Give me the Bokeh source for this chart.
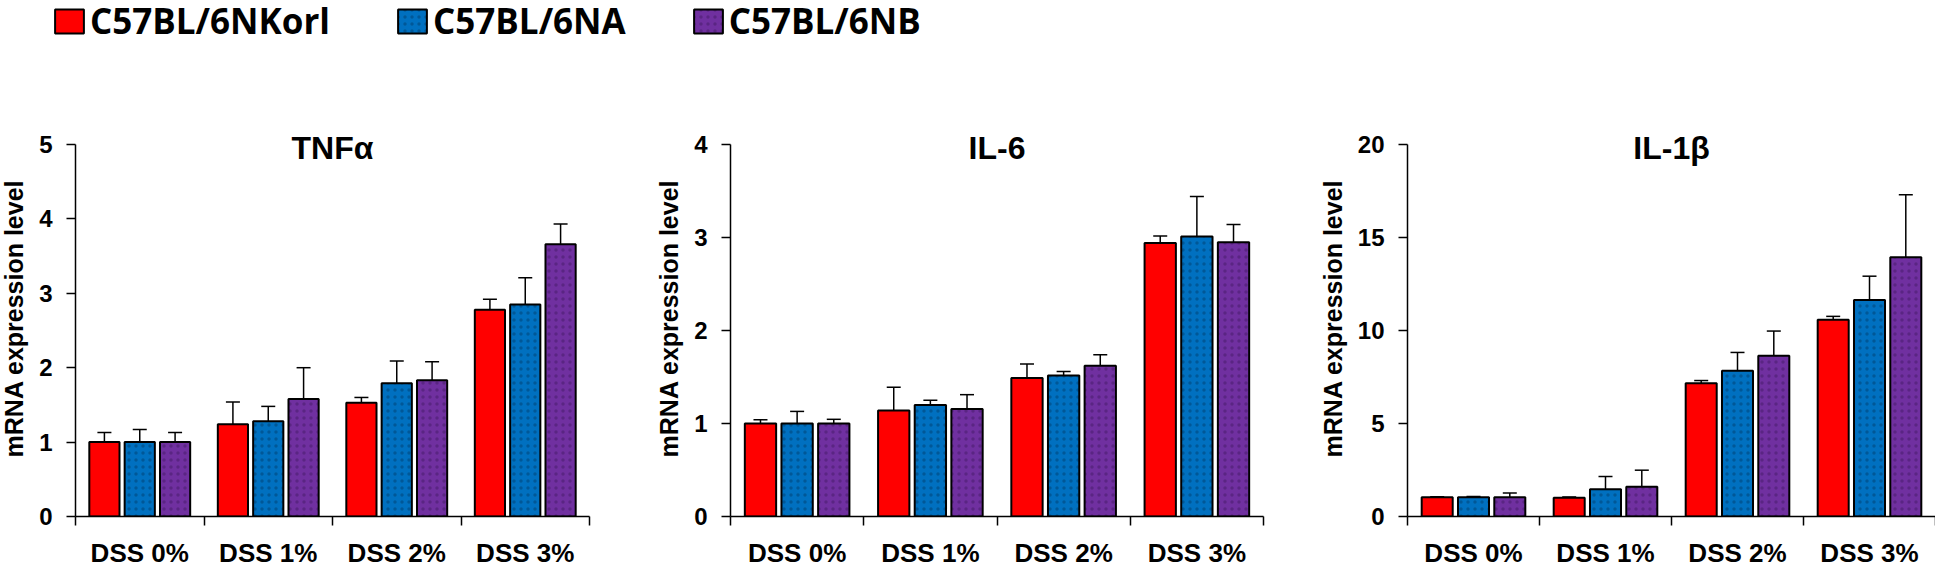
from bokeh.plotting import figure
from bokeh.layouts import row, column
from bokeh.models import (ColumnDataSource, Range1d, FixedTicker, Whisker, TeeHead,
                          Label, Legend, LegendItem)
from bokeh.transform import dodge
from bokeh.embed import file_html
from bokeh.resources import INLINE

# ---------------- data ----------------
categories = ["DSS 0%", "DSS 1%", "DSS 2%", "DSS 3%"]
strains = ["C57BL/6NKorl", "C57BL/6NA", "C57BL/6NB"]
colors = ["#FF0000", "#0070C0", "#7030A0"]
hatch_colors = [None, "#00335c", "#3a1458"]

tnf_korl = [1.00, 1.24, 1.53, 2.78]
tnf_korl_sd = [0.13, 0.30, 0.07, 0.14]
tnf_na = [1.00, 1.28, 1.79, 2.85]
tnf_na_sd = [0.17, 0.20, 0.30, 0.36]
tnf_nb = [1.00, 1.58, 1.83, 3.66]
tnf_nb_sd = [0.13, 0.42, 0.25, 0.27]

il6_korl = [1.00, 1.14, 1.49, 2.94]
il6_korl_sd = [0.04, 0.25, 0.15, 0.075]
il6_na = [1.00, 1.20, 1.515, 3.01]
il6_na_sd = [0.13, 0.05, 0.045, 0.43]
il6_nb = [1.00, 1.155, 1.62, 2.95]
il6_nb_sd = [0.045, 0.155, 0.12, 0.19]

il1b_korl = [1.03, 1.01, 7.16, 10.58]
il1b_korl_sd = [0.03, 0.04, 0.15, 0.18]
il1b_na = [1.03, 1.46, 7.84, 11.64]
il1b_na_sd = [0.05, 0.69, 0.98, 1.28]
il1b_nb = [1.03, 1.60, 8.64, 13.94]
il1b_nb_sd = [0.23, 0.89, 1.33, 3.36]

y_label = "mRNA expression level"

offsets = [-0.275, 0.0, 0.275]
BAR_W = 0.235
LABEL_FONT = "Liberation Sans"
UI_FONT = "Open Sans"

AXIS_H = 372      # pixel height from 0 to top tick
HEAD = 24         # extra room above top tick for the title


def style_bar_kwargs(k):
    kw = dict(fill_color=colors[k], line_color="black", line_width=2)
    if hatch_colors[k]:
        kw.update(hatch_pattern="dot", hatch_color=hatch_colors[k], hatch_alpha=0.4,
                  hatch_scale=7, hatch_weight=0.8)
    return kw


def make_panel(title, means, sds, ymax, ystep, left, fw, right):
    ytop = ymax * (AXIS_H + HEAD) / AXIS_H
    p = figure(frame_width=fw, frame_height=AXIS_H + HEAD, output_backend="svg",
               toolbar_location=None, x_range=Range1d(0.5, 4.5),
               y_range=Range1d(0, ytop), min_border_left=left,
               min_border_right=right, min_border_top=0, min_border_bottom=43)
    p.outline_line_color = None
    p.xgrid.visible = False
    p.ygrid.visible = False
    p.background_fill_color = None
    p.border_fill_color = None

    xpos = [i + 1 for i in range(len(categories))]
    for k in range(3):
        src = ColumnDataSource(dict(
            x=xpos, top=means[k],
            upper=[m + s for m, s in zip(means[k], sds[k])]))
        p.vbar(x=dodge("x", offsets[k], range=p.x_range), top="top", width=BAR_W,
               source=src, **style_bar_kwargs(k))
        w = Whisker(source=src, base=dodge("x", offsets[k], range=p.x_range),
                    upper="upper", lower="top", dimension="height",
                    line_color="black", line_width=1.5,
                    upper_head=TeeHead(size=14, line_width=1.5, line_color="black"),
                    lower_head=None)
        p.add_layout(w)

    # x axis: category labels centered, ticks at group boundaries
    xa = p.xaxis[0]
    xa.ticker = FixedTicker(ticks=xpos, minor_ticks=[i + 0.5 for i in range(len(categories) + 1)])
    xa.major_label_overrides = {x: c for x, c in zip(xpos, categories)}
    xa.major_tick_out = 0
    xa.major_tick_in = 0
    xa.minor_tick_out = 9
    xa.minor_tick_in = 0
    xa.minor_tick_line_color = "black"
    xa.minor_tick_line_width = 1.5
    xa.axis_line_width = 1.5
    xa.axis_line_color = "black"
    xa.major_label_standoff = 12
    xa.major_label_text_font = LABEL_FONT
    xa.major_label_text_font_style = "bold"
    xa.major_label_text_font_size = "26px"
    xa.major_label_text_color = "black"

    ya = p.yaxis[0]
    ya.bounds = (0, ymax)
    ya.ticker = FixedTicker(ticks=list(range(0, ymax + 1, ystep)))
    ya.major_tick_out = 9
    ya.major_tick_in = 0
    ya.minor_tick_line_color = None
    ya.major_tick_line_width = 1.5
    ya.axis_line_width = 1.5
    ya.axis_line_color = "black"
    ya.major_label_standoff = 14
    ya.major_label_text_font = LABEL_FONT
    ya.major_label_text_font_style = "bold"
    ya.major_label_text_font_size = "24px"
    ya.major_label_text_color = "black"
    ya.axis_label = y_label
    ya.axis_label_standoff = 8
    ya.axis_label_text_font = LABEL_FONT
    ya.axis_label_text_font_style = "bold"
    ya.axis_label_text_font_size = "25px"
    ya.axis_label_text_color = "black"

    p.add_layout(Label(x=2.5, y=ymax, y_offset=-3, text=title, text_align="center",
                       text_baseline="middle", text_font=LABEL_FONT,
                       text_font_style="bold", text_font_size="32px",
                       text_color="black"))
    return p


p1 = make_panel("TNF\u03b1", [tnf_korl, tnf_na, tnf_nb],
                [tnf_korl_sd, tnf_na_sd, tnf_nb_sd], 5, 1, 83, 514, 23)
p2 = make_panel("IL-6", [il6_korl, il6_na, il6_nb],
                [il6_korl_sd, il6_na_sd, il6_nb_sd], 4, 1, 118, 533, 26)
p3 = make_panel("IL-1\u03b2", [il1b_korl, il1b_na, il1b_nb],
                [il1b_korl_sd, il1b_na_sd, il1b_nb_sd], 20, 5, 118, 528, 0)

# ---------------- legend figure ----------------
LEG_H = 128
lg = figure(width=1946, height=LEG_H, output_backend="svg", toolbar_location=None,
            x_range=Range1d(0, 1), y_range=Range1d(0, 1), min_border=0)
lg.axis.visible = False
lg.xgrid.visible = False
lg.ygrid.visible = False
lg.outline_line_color = None
lg.border_fill_color = None
lg.background_fill_color = None
items = []
for k, name in enumerate(strains):
    # legend-only renderers: a single bar kept outside the visible range
    r = lg.vbar(x=[-10], top=[1], width=0.1, **style_bar_kwargs(k))
    items.append(LegendItem(label=name, renderers=[r]))
leg = Legend(items=items, orientation="horizontal", location=(59, LEG_H - 52),
             glyph_width=36, glyph_height=30, label_standoff=3, spacing=64,
             padding=0, margin=0, border_line_color=None,
             background_fill_alpha=0, label_text_font=UI_FONT,
             label_text_font_style="bold", label_text_font_size="35px",
             label_text_color="black", label_height=30)
lg.add_layout(leg)

layout = column(lg, row(p1, p2, p3, spacing=0), spacing=0)
layout.styles = {"margin": "-8px -8px -8px -8px"}

open("out.html", "w").write(file_html(layout, INLINE))
